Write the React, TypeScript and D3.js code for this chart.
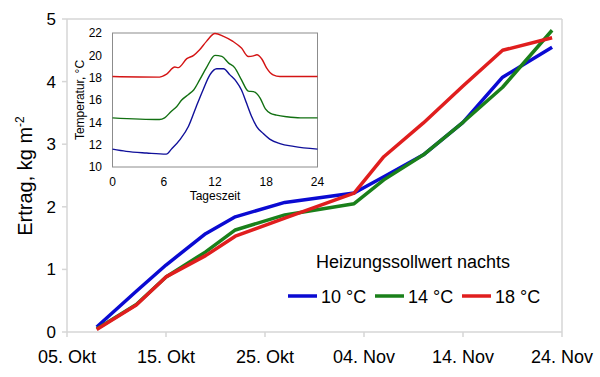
import React from "react";
import * as d3 from "d3";

const harvestDates = ["2010-10-08", "2010-10-12", "2010-10-15", "2010-10-19", "2010-10-22", "2010-10-27", "2010-11-03", "2010-11-06", "2010-11-10", "2010-11-14", "2010-11-18", "2010-11-23"];
const yield10 = [0.08, 0.65, 1.07, 1.57, 1.84, 2.07, 2.22, 2.48, 2.83, 3.35, 4.07, 4.55];
const yield14 = [0.05, 0.44, 0.88, 1.28, 1.63, 1.87, 2.05, 2.43, 2.83, 3.35, 3.91, 4.82];
const yield18 = [0.04, 0.43, 0.88, 1.22, 1.53, 1.82, 2.22, 2.8, 3.34, 3.93, 4.5, 4.7];

const xTickDates = ["2010-10-05", "2010-10-15", "2010-10-25", "2010-11-04", "2010-11-14", "2010-11-24"];
const xTickLabels = ["05. Okt", "15. Okt", "25. Okt", "04. Nov", "14. Nov", "24. Nov"];
const yTicks = [0, 1, 2, 3, 4, 5];

const seriesNames = ["10 °C", "14 °C", "18 °C"];
const seriesColors = ["#0a0ad2", "#1a801a", "#e01e1e"];
const insetColors = ["#10109a", "#127012", "#d41414"];

// inset: temperature over time of day
const hRed = [0, 5.5, 6.3, 7.3, 7.7, 8.7, 9.5, 10.2, 11, 12, 13, 14.1, 15.1, 15.9, 16.5, 16.9, 17.5, 18.05, 18.8, 19.6, 24];
const tRed = [18.1, 18.05, 18.3, 18.95, 18.9, 19.7, 20.0, 20.5, 21.25, 21.95, 21.7, 21.25, 20.65, 19.9, 19.95, 20.05, 19.65, 18.85, 18.25, 18.1, 18.1];
const hGreen = [0, 5.5, 6.1, 6.9, 7.5, 8.1, 8.9, 9.5, 10.2, 11, 12, 12.8, 13.6, 14.3, 15.1, 15.9, 16.5, 17.3, 17.9, 18.5, 19.2, 20.4, 22, 24];
const tGreen = [14.4, 14.25, 14.4, 15.0, 15.4, 16.0, 16.5, 16.9, 17.8, 18.9, 20.0, 19.9, 19.3, 18.9, 17.8, 16.8, 16.75, 16.15, 15.2, 14.8, 14.65, 14.5, 14.4, 14.4];
const hBlue = [0, 1.6, 4, 6.3, 6.9, 7.9, 8.9, 9.8, 10.6, 11.4, 12.2, 13, 13.75, 14.5, 15.1, 15.7, 16.3, 16.9, 17.65, 18.4, 19.6, 21.2, 24];
const tBlue = [11.6, 11.4, 11.25, 11.15, 11.6, 12.45, 13.65, 15.4, 16.9, 18.25, 18.8, 18.8, 18.25, 17.65, 16.9, 15.7, 14.5, 13.6, 13.0, 12.5, 12.1, 11.85, 11.6];
const insetXTicks = [0, 6, 12, 18, 24];
const insetYTicks = [10, 12, 14, 16, 18, 20, 22];

const FONT = "'Liberation Sans', Arial, sans-serif";

export default function App() {
  const W = 600, H = 377;
  const x = d3.scaleTime().domain([new Date("2010-10-05"), new Date("2010-11-24")]).range([67, 562]);
  const y = d3.scaleLinear().domain([0, 5]).range([332, 19]);
  const dates = harvestDates.map((d) => new Date(d));
  const line = d3.line<[Date, number]>().x((d) => x(d[0])).y((d) => y(d[1]));
  const series = [yield10, yield14, yield18];

  const ix = d3.scaleLinear().domain([0, 24]).range([112.5, 317.5]);
  const iy = d3.scaleLinear().domain([10, 22]).range([167, 33]);
  const iline = d3.line<[number, number]>().x((d) => ix(d[0])).y((d) => iy(d[1])).curve(d3.curveMonotoneX);
  const insetSeries: [number[], number[]][] = [[hBlue, tBlue], [hGreen, tGreen], [hRed, tRed]];

  const axisColor = "#d6d6d6";
  const legendX = [288, 375, 462];

  return (
    <svg width={W} height={H} style={{ position: "absolute", left: 0, top: 0, background: "#fff" }} fontFamily={FONT}>
      <rect x={0} y={0} width={W} height={H} fill="#fff" />
      {/* plot frame */}
      <line x1={67} x2={562} y1={19} y2={19} stroke={axisColor} strokeWidth={1.5} />
      <line x1={562} x2={562} y1={19} y2={332} stroke={axisColor} strokeWidth={1.5} />
      <line x1={67} x2={67} y1={19} y2={332} stroke={axisColor} strokeWidth={1.5} />
      <line x1={67} x2={562} y1={332} y2={332} stroke={axisColor} strokeWidth={1.5} />
      {yTicks.map((t) => (
        <g key={"y" + t}>
          <line x1={62} x2={67} y1={y(t)} y2={y(t)} stroke={axisColor} strokeWidth={1.5} />
          <text x={56} y={y(t) + 6} textAnchor="end" fontSize={17} fill="#000">{t}</text>
        </g>
      ))}
      {xTickDates.map((d, i) => (
        <g key={"x" + i}>
          <line x1={x(new Date(d))} x2={x(new Date(d))} y1={332} y2={337} stroke={axisColor} strokeWidth={1.5} />
          <text x={x(new Date(d))} y={363} textAnchor="middle" fontSize={18} fill="#000">{xTickLabels[i]}</text>
        </g>
      ))}
      <text transform={`translate(32,176) rotate(-90)`} textAnchor="middle" fontSize={20} fill="#000">
        Ertrag, kg m<tspan fontSize={12} dy={-8}>-2</tspan>
      </text>

      {/* series */}
      {series.map((s, i) => (
        <path key={"s" + i} d={line(dates.map((d, j) => [d, s[j]] as [Date, number])) || ""} fill="none" stroke={seriesColors[i]} strokeWidth={3.5} strokeLinejoin="round" />
      ))}

      {/* legend */}
      <text x={413} y={268} textAnchor="middle" fontSize={18} fill="#000">Heizungssollwert nachts</text>
      {seriesNames.map((n, i) => (
        <g key={"l" + i}>
          <line x1={legendX[i]} x2={legendX[i] + 29} y1={296} y2={296} stroke={seriesColors[i]} strokeWidth={3.5} />
          <text x={legendX[i] + 33} y={302.5} fontSize={18} fill="#000">{n}</text>
        </g>
      ))}

      {/* inset */}
      <rect x={112.5} y={33} width={205} height={134} fill="#fff" stroke="#8c8c8c" strokeWidth={1} />
      {insetSeries.map(([h, t], i) => (
        <path key={"i" + i} d={iline(h.map((hh, j) => [hh, t[j]] as [number, number])) || ""} fill="none" stroke={insetColors[i]} strokeWidth={1.4} />
      ))}
      {insetYTicks.map((t) => (
        <text key={"iy" + t} x={102} y={iy(t) + 4.3} textAnchor="end" fontSize={12} fill="#000">{t}</text>
      ))}
      {insetXTicks.map((t) => (
        <text key={"ix" + t} x={ix(t)} y={186} textAnchor="middle" fontSize={12} fill="#000">{t}</text>
      ))}
      <text x={ix(12)} y={200} textAnchor="middle" fontSize={12} fill="#000">Tageszeit</text>
      <text transform={`translate(84,100) rotate(-90)`} textAnchor="middle" fontSize={12} fill="#000">Temperatur, °C</text>
    </svg>
  );
}
